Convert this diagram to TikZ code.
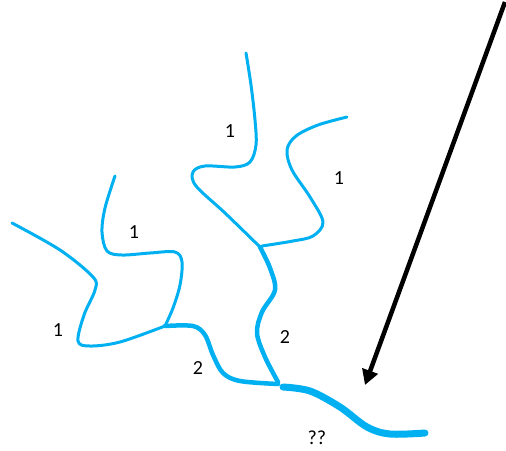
\documentclass[tikz,border=0pt]{standalone}
\usepackage{fontspec}
\setmainfont{Carlito}
\usetikzlibrary{arrows.meta}
\definecolor{river}{HTML}{00B0F0}
\begin{document}
\begin{tikzpicture}[x=1pt,y=-1pt,
  order1/.style={draw=river,line width=3pt,line cap=round,line join=round},
  order2/.style={draw=river,line width=4.5pt,line cap=round,line join=round},
  order3/.style={draw=river,line width=7pt,line cap=round,line join=round},
  lbl/.style={font=\fontsize{20}{22}\selectfont,inner sep=0pt},
  flow/.style={draw=black,line width=4.5pt,-{Triangle[width=16pt,length=15pt]}}]
\useasboundingbox (0,0) rectangle (506,450);
% junctions
\coordinate (jA) at (165,326);
\coordinate (jB) at (260,247);
\coordinate (jC) at (280,384);
\coordinate (mouth) at (425,433);
% first-order streams, left pair
\draw[order1] plot[smooth,tension=0.55] coordinates
  {(12,223) (60,250) (93,277) (95,290) (84,315) (78,341) (90,346) (120,342) (165,326)};
\draw[order1] plot[smooth,tension=0.55] coordinates
  {(115,176) (105,208) (102,232) (107,251) (122,255) (150,253) (175,252) (182,262) (180,285) (173,308) (165,326)};
% first-order streams, right pair
\draw[order1] plot[smooth,tension=0.55] coordinates
  {(246,53) (251,85) (255,120) (256,145) (250,162) (235,167) (205,166) (193,172) (196,186) (225,213) (260,247)};
\draw[order1] plot[smooth,tension=0.55] coordinates
  {(347,117) (318,125) (296,136) (287,150) (292,170) (310,197) (323,222) (313,236) (293,241) (262,246)};
% second-order streams
\draw[order2] plot[smooth,tension=0.55] coordinates
  {(jA) (193,326) (205,335) (213,355) (223,373) (240,381) (278,384)};
\draw[order2] plot[smooth,tension=0.55] coordinates
  {(jB) (270,268) (275,290) (262,312) (257,333) (265,357) (278,382)};
% third-order stream
\draw[order3] plot[smooth,tension=0.55] coordinates
  {(283,387) (310,391) (340,407) (367,427) (390,434) (425,433)};
% flow direction
\coordinate (src) at (505,2);
\coordinate (tip) at (365,385);
\draw[flow] (src) -- (tip);
% stream order labels
\node[lbl] (l1) at (230,131) {1};
\node[lbl] (l2) at (339,178) {1};
\node[lbl] (l3) at (134,232) {1};
\node[lbl] (l4) at (58,330) {1};
\node[lbl] (l5) at (198,368) {2};
\node[lbl] (l6) at (285,337) {2};
\node[lbl] (l7) at (317,438) {??};
\end{tikzpicture}
\end{document}
